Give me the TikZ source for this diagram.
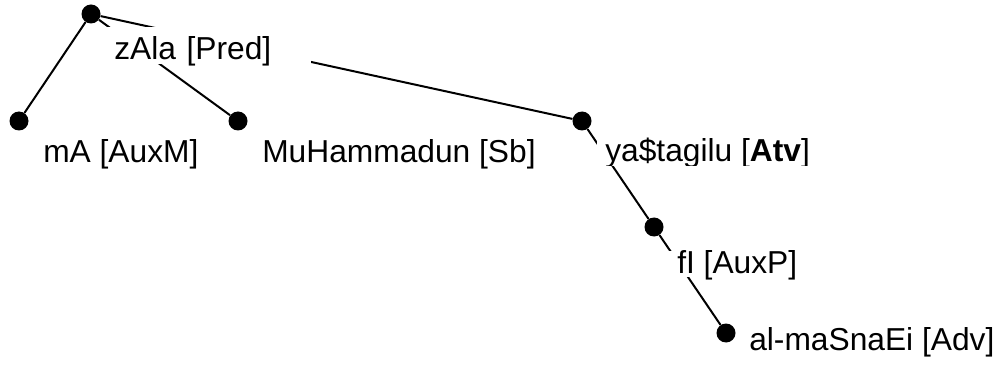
\documentclass[tikz,border=0pt]{standalone}
\usepackage{fontspec}
\setmainfont{Liberation Sans}
\begin{document}
\begin{tikzpicture}[x=0.75pt,y=-0.75pt,
    tok/.style={circle,fill=black,inner sep=0pt,minimum size=14.25pt},
    lab/.style={anchor=base west,fill=white,inner xsep=6pt,inner ysep=0pt,
      text height=16.5pt,text depth=3pt,font=\fontsize{23.8}{28}\selectfont},
    arc/.style={line width=1.5pt}]
  \useasboundingbox (0,0) rectangle (998,370);
  % tokens
  \node[tok] (zala) at (91,14) {};
  \node[tok] (ma) at (19,121) {};
  \node[tok] (muh) at (238,121) {};
  \node[tok] (yas) at (582,121) {};
  \node[tok] (fi) at (654,227) {};
  \node[tok] (mas) at (726,333) {};
  % dependencies
  \draw[arc] (zala) -- (ma);
  \draw[arc] (zala) -- (muh);
  \draw[arc] (zala) -- (yas);
  \draw[arc] (yas) -- (fi);
  \draw[arc] (fi) -- (mas);
  % labels
  \node[lab,text height=24.75pt,text width=141.75pt,align=left] (zalaL) at (106,60) {zAla [Pred]};
  \node[lab] (maL) at (35,163) {mA [AuxM]};
  \node[lab] (muhL) at (254,163) {MuHammadun [Sb]};
  \begin{scope}
    \clip (590,130) rectangle (830,166);
    \node[lab] (yasL) at (597,162) {ya\$tagilu [\textbf{Atv}]};
  \end{scope}
  \node[lab] (fiL) at (669,273) {fI [AuxP]};
  \node[lab] (masL) at (741,350) {al-maSnaEi [Adv]};
\end{tikzpicture}
\end{document}
